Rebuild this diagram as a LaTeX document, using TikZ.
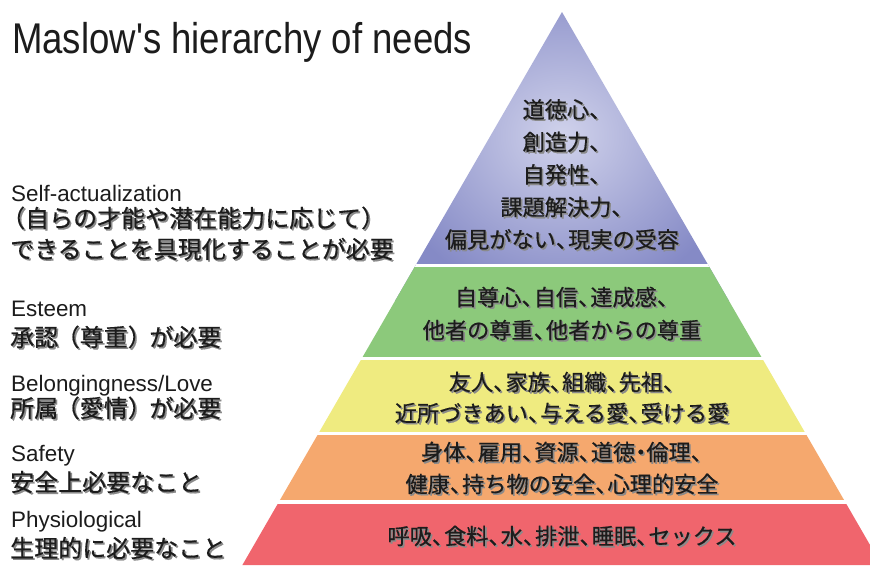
\documentclass[tikz,border=0pt]{standalone}
\usepackage{fontspec}
\setmainfont{Liberation Sans}
\newfontfamily\titlefont{Liberation Sans}
\newfontfamily\jpfont{Noto Sans CJK JP}[FakeBold=0.5]
\definecolor{pyrlight}{HTML}{D0D2EB}
\definecolor{pyrdark}{HTML}{858AC6}
\definecolor{pyrgreen}{HTML}{8CC97B}
\definecolor{pyryellow}{HTML}{EFEB80}
\definecolor{pyrorange}{HTML}{F5A86E}
\definecolor{pyrred}{HTML}{F0656D}
\definecolor{txtc}{HTML}{1C1C1C}
\definecolor{shadowc}{HTML}{8A8A8A}
\newcommand\tnc{\makebox[0.55em][l]{、}}
\newcommand\tdot{\makebox[0.5em][c]{・}}
\newcommand\shnode[4]{%
  \node[#1, text=shadowc, xshift=1.6pt, yshift=-1.6pt] (#2-sh) at #3 {#4};
  \node[#1] (#2) at #3 {#4};}
\begin{document}
\begin{tikzpicture}[x=1pt,y=-1pt,
  ptext/.style={font=\jpfont\fontsize{22.2}{32.5}\selectfont, align=center, inner sep=0pt, text=txtc},
  ptexttwo/.style={ptext, font=\jpfont\fontsize{22.2}{#1}\selectfont},
  enlabel/.style={font=\fontsize{22.4}{26}\selectfont, anchor=base west, inner sep=0pt, text=txtc},
  jplabel/.style={font=\jpfont\fontsize{24}{28}\selectfont, anchor=west, inner sep=0pt, text=txtc},
  titlestyle/.style={font=\titlefont\fontsize{43}{50}\selectfont, anchor=base west, inner sep=0pt, text=txtc}]
\useasboundingbox (0,0) rectangle (870,565);
\fill[white] (0,0) rectangle (870,565);
% pyramid layers
\begin{scope}
  \clip (0,0) rectangle (870,565);
  \clip (562,12) -- (242.4,565) -- (881.6,565) -- cycle;
  \shade[inner color=pyrlight, outer color=pyrdark] (380,-30) rectangle (744,300);
  \fill[white] (200,264) rectangle (900,267);
  \fill[pyrgreen] (200,267) rectangle (900,357);
  \fill[pyryellow] (200,360) rectangle (900,432);
  \fill[pyrorange] (200,435) rectangle (900,500);
  \fill[pyrred] (200,504) rectangle (900,570);
\end{scope}
% title
\node[titlestyle] (title) at (12,53) {\scalebox{0.85}[1]{Maslow's hierarchy of needs}};
% pyramid texts
\shnode{ptext}{selfact}{(562,174.5)}{道徳心\tnc\\創造力\tnc\\自発性\tnc\\課題解決力\tnc\\偏見がない\tnc 現実の受容}
\shnode{ptexttwo=33}{esteem}{(562,313.5)}{自尊心\tnc 自信\tnc 達成感\tnc\\他者の尊重\tnc 他者からの尊重}
\shnode{ptexttwo=31}{love}{(562,397.5)}{友人\tnc 家族\tnc 組織\tnc 先祖\tnc\\近所づきあい\tnc 与える愛\tnc 受ける愛}
\shnode{ptexttwo=32}{safety}{(562,468)}{身体\tnc 雇用\tnc 資源\tnc 道徳\tdot 倫理\tnc\\健康\tnc 持ち物の安全\tnc 心理的安全}
\shnode{ptext}{physio}{(562,536)}{呼吸\tnc 食料\tnc 水\tnc 排泄\tnc 睡眠\tnc セックス}
% left labels
\node[enlabel] (l1en) at (11,201) {Self-actualization};
\shnode{jplabel}{l1a}{(1,218)}{（自らの才能や潜在能力に応じて）}
\shnode{jplabel}{l1b}{(10,249)}{できることを具現化することが必要}
\node[enlabel] (l2en) at (11,316) {Esteem};
\shnode{jplabel}{l2}{(10,337)}{承認\hspace{-0.1em}（尊重）\hspace{-0.1em}が必要}
\node[enlabel] (l3en) at (11,391) {Belongingness/Love};
\shnode{jplabel}{l3}{(10,408)}{所属\hspace{-0.1em}（愛情）\hspace{-0.1em}が必要}
\node[enlabel] (l4en) at (11,461) {Safety};
\shnode{jplabel}{l4}{(10,482)}{安全上必要なこと}
\node[enlabel] (l5en) at (11,527) {Physiological};
\shnode{jplabel}{l5}{(10,548)}{生理的に必要なこと}
\end{tikzpicture}
\end{document}
